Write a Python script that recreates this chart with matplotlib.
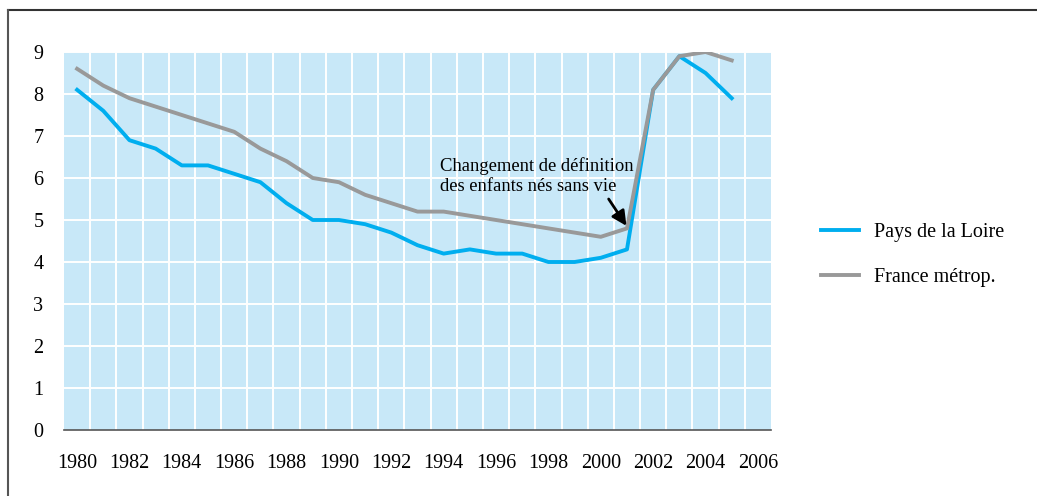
import numpy as np
import matplotlib.pyplot as plt
from matplotlib.lines import Line2D

plt.rcParams['font.family'] = ['Liberation Serif', 'DejaVu Serif']

# Données
annees = list(range(1980, 2006))
pays_loire = [8.1, 7.6, 6.9, 6.7, 6.3, 6.3, 6.1, 5.9, 5.4, 5.0, 5.0, 4.9, 4.7,
              4.4, 4.2, 4.3, 4.2, 4.2, 4.0, 4.0, 4.1, 4.3, 8.1, 8.9, 8.5, 7.9]
france = [8.6, 8.2, 7.9, 7.7, 7.5, 7.3, 7.1, 6.7, 6.4, 6.0, 5.9, 5.6, 5.4,
          5.2, 5.2, 5.1, 5.0, 4.9, 4.8, 4.7, 4.6, 4.8, 8.1, 8.9, 9.0, 8.8]
etiquettes_x = list(range(1980, 2007, 2))
etiquettes_y = list(range(0, 10))

bleu = '#00aeef'
gris = '#999999'

fig = plt.figure(figsize=(10.37, 4.96), dpi=100)
ax = fig.add_axes([64 / 1037, 1 - 430 / 496, (771 - 64) / 1037, (430 - 52) / 496])

ax.set_facecolor('#c8e8f8')
ax.set_xlim(1979.5, 2006.5)
ax.set_ylim(0, 9)

# Grille blanche
for x in np.arange(1980.5, 2006.5, 1):
    ax.axvline(x, color='white', lw=1.4, zorder=1)
for y in etiquettes_y[1:]:
    ax.axhline(y, color='white', lw=1.4, zorder=1)

ax.plot(annees, pays_loire, color=bleu, lw=2.8, zorder=3)
ax.plot(annees, france, color=gris, lw=2.8, zorder=4)

ax.set_xticks(etiquettes_x)
ax.set_yticks(etiquettes_y)
ax.tick_params(length=0, labelsize=14.5, colors='black')
ax.tick_params(axis='x', pad=17)
ax.tick_params(axis='y', pad=22)
for lab in ax.get_yticklabels():
    lab.set_horizontalalignment('left')

for s in ['top', 'right', 'left']:
    ax.spines[s].set_visible(False)
ax.spines['bottom'].set_color('#555555')
ax.spines['bottom'].set_linewidth(1.2)

ax.text(1993.85, 5.6, 'Changement de définition\ndes enfants nés sans vie',
        fontsize=13.4, ha='left', va='bottom', linespacing=1.25, zorder=5)
ax.annotate('', xy=(2000.98, 4.86), xytext=(2000.3, 5.5),
            arrowprops=dict(arrowstyle='-|>', color='black', lw=2,
                            mutation_scale=22, shrinkA=0, shrinkB=0),
            zorder=5)

# Légende
poignees = [Line2D([], [], color=bleu, lw=2.8), Line2D([], [], color=gris, lw=2.8)]
fig.legend(poignees, ['Pays de la Loire', 'France métrop.'],
           loc='center left', bbox_to_anchor=(803 / 1037, 1 - 255 / 496),
           frameon=False, fontsize=14.5, handlelength=1.9, handletextpad=0.75,
           labelspacing=1.3)

# Cadre
fig.add_artist(Line2D([8 / 1037, 1], [1 - 10 / 496, 1 - 10 / 496],
                      color='#333333', lw=1.5, transform=fig.transFigure))
fig.add_artist(Line2D([8 / 1037, 8 / 1037], [0, 1 - 10 / 496],
                      color='#555555', lw=1.5, transform=fig.transFigure))

fig.savefig('out.png', dpi=100)
